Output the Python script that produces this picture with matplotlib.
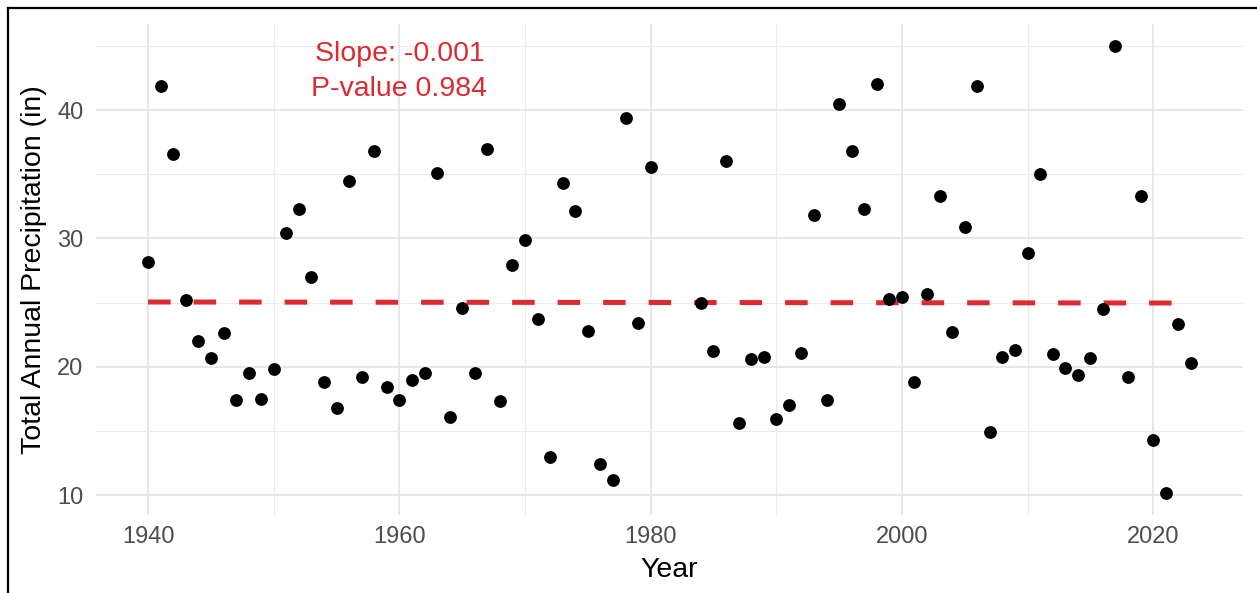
#!/usr/bin/env python
"""
Annual precipitation scatter with flat trend line.

python3 plot.py  ->  out.png
"""

import matplotlib
matplotlib.use("Agg")
import matplotlib.pyplot as plt
from matplotlib.lines import Line2D
from matplotlib.ticker import MultipleLocator

# years with data (1981-1983 missing)
years = list(range(1940, 1981)) + list(range(1984, 2024))

precip = [
    28.2, 41.9, 36.6, 25.2, 22.0, 20.7, 22.6, 17.4, 19.5, 17.5,   # 1940s
    19.8, 30.4, 32.3, 27.0, 18.8, 16.8, 34.5, 19.2, 36.8, 18.4,   # 1950s
    17.4, 19.0, 19.5, 35.1, 16.1, 24.6, 19.5, 37.0, 17.3, 27.9,   # 1960s
    29.9, 23.7, 13.0, 34.3, 32.1, 22.8, 12.4, 11.2, 39.4, 23.4,   # 1970s
    35.6,                                                         # 1980
    25.0, 21.2, 36.0, 15.6, 20.6, 20.8,                           # 1984-89
    15.9, 17.0, 21.1, 31.8, 17.4, 40.5, 36.8, 32.3, 42.0, 25.3,   # 1990s
    25.4, 18.8, 25.7, 33.3, 22.7, 30.9, 41.9, 14.9, 20.8, 21.3,   # 2000s
    28.9, 35.0, 21.0, 19.9, 19.4, 20.7, 24.5, 45.0, 19.2, 33.3,   # 2010s
    14.3, 10.2, 23.3, 20.3,                                       # 2020s
]

# fitted trend end points
trend_years = [1940, 2023]
trend_vals = [25.05, 24.97]

slope_text = "Slope: -0.001"
pval_text = "P-value 0.984"

RED = "#dd2a30"
GREY_TXT = "#4d4d4d"


def main():
    plt.rcParams['font.family'] = ['Liberation Sans', 'DejaVu Sans']

    fig = plt.figure(figsize=(12.57, 5.93), dpi=100)
    ax = fig.add_axes([96 / 1257, 78 / 593, 1147 / 1257, 491.5 / 593])

    ax.scatter(years, precip, s=85, color="black", linewidths=0, zorder=3)
    ax.plot(trend_years, trend_vals, color=RED, lw=3.6,
            linestyle=(0, (4.5, 4.6)), zorder=2)

    ax.text(1960, 43.0, slope_text + "\n" + pval_text, color=RED,
            fontsize=20.5, ha="center", va="center", linespacing=1.45,
            zorder=4)

    ax.set_xlim(1935.85, 2027.15)
    ax.set_ylim(8.46, 46.74)
    ax.xaxis.set_major_locator(MultipleLocator(20))
    ax.xaxis.set_minor_locator(MultipleLocator(10))
    ax.yaxis.set_major_locator(MultipleLocator(10))
    ax.yaxis.set_minor_locator(MultipleLocator(5))

    ax.grid(which="major", color="#e3e3e3", lw=1.2)
    ax.grid(which="minor", color="#ebebeb", lw=0.8)
    ax.set_axisbelow(True)
    for s in ax.spines.values():
        s.set_visible(False)
    ax.tick_params(which="both", length=0)
    ax.tick_params(axis="x", labelsize=17, labelcolor=GREY_TXT, pad=8)
    ax.tick_params(axis="y", labelsize=17, labelcolor=GREY_TXT, pad=9)

    ax.set_xlabel("Year", fontsize=20.5, color="black")
    ax.set_ylabel("Total Annual Precipitation (in)", fontsize=20.5, color="black")
    ax.xaxis.set_label_coords(0.5, -0.085)
    ax.yaxis.set_label_coords(-0.043, 0.5)

    # screenshot frame on top and left
    fig.add_artist(Line2D([8 / 1257, 8 / 1257], [0, 1 - 8 / 593],
                          transform=fig.transFigure, color="black", lw=1.6))
    fig.add_artist(Line2D([8 / 1257, 1], [1 - 8 / 593, 1 - 8 / 593],
                          transform=fig.transFigure, color="black", lw=1.6))

    fig.savefig("out.png", dpi=100)
    print("Saved image: out.png")


if __name__ == "__main__":
    main()
